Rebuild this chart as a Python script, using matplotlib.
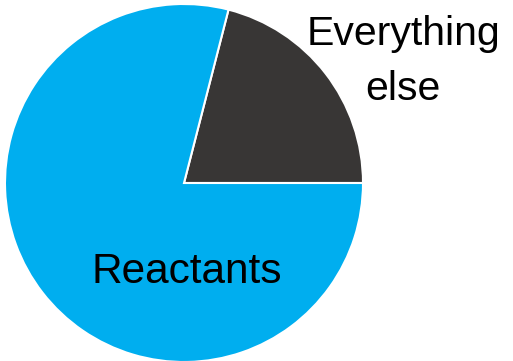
import matplotlib
matplotlib.use("Agg")
import matplotlib.pyplot as plt

labels = ["Everything\nelse", "Reactants"]
values = [21, 79]
colors = ["#383635", "#00AEEF"]

W, H = 513, 361
cx, cy, r = 184, 183, 179

fig = plt.figure(figsize=(W / 100, H / 100), dpi=100)
ax = fig.add_axes([0, 0, 1, 1])
ax.pie(values, colors=colors, startangle=0, counterclock=True,
       wedgeprops=dict(edgecolor="white", linewidth=1.5))
ax.set_xlim(-cx / r, (W - cx) / r)
ax.set_ylim(-(H - cy) / r, cy / r)
ax.set_aspect("equal", adjustable="box")
ax.axis("off")

font = ["Liberation Sans", "DejaVu Sans"]
ax.text((403 - cx) / r, (cy - 100) / r, labels[0], ha="center", va="baseline",
        fontsize=29.5, family=font, color="black", linespacing=1.58,
        multialignment="center")
ax.text((187 - cx) / r, (cy - 283) / r, labels[1], ha="center", va="baseline",
        fontsize=30.5, family=font, color="black")

fig.savefig("out.png", dpi=100)
